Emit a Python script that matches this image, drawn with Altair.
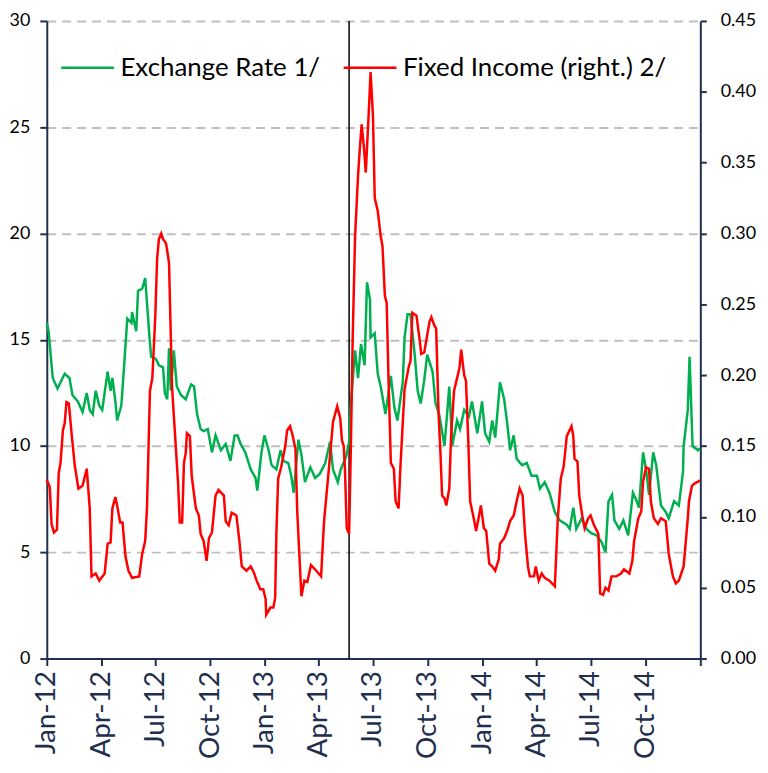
import altair as alt
import pandas as pd

# ---- data (days since 2012-01-01) ----
fx_days = [0,3,10,18,30,38,43,52,60,67,72,77,82,88,93,102,107,110,115,118,125,130,135,142,143,150,153,160,165,172,175,183,188,195,198,202,205,208,213,218,225,233,242,247,252,258,263,270,277,283,292,300,308,315,320,325,333,342,350,353,360,365,372,377,385,392,397,405,410,414,422,427,433,442,450,458,467,475,480,488,493,502,507,510,517,522,527,533,537,542,543,550,555,560,568,577,583,588,597,600,605,610,617,622,627,633,638,647,652,658,667,675,680,688,693,700,708,713,722,730,735,742,747,752,758,760,767,772,777,783,788,797,805,813,822,827,835,843,852,860,872,877,883,888,897,905,913,922,930,937,942,948,952,960,967,975,983,988,993,1000,1005,1010,1017,1022,1030,1038,1043,1052,1060,1067,1068,1075,1078,1083,1092,1095]
fx_vals = [15.8,15.4,13.2,12.7,13.4,13.2,12.4,12.1,11.6,12.5,11.7,11.5,12.6,11.9,11.7,13.5,12.6,13.2,12.1,11.2,11.9,13.9,16.0,15.8,16.3,15.4,17.3,17.4,17.9,15.2,14.2,14.1,13.8,13.7,12.5,12.2,14.6,12.6,14.5,12.8,12.4,12.2,12.9,12.8,11.5,10.8,10.7,10.8,9.7,10.5,9.8,10.1,9.3,10.5,10.5,10.1,9.7,8.9,8.5,7.9,9.7,10.5,9.8,9.1,8.9,9.8,9.3,9.2,8.6,7.8,10.3,9.6,8.3,9.0,8.5,8.7,9.2,10.2,8.9,8.3,8.9,9.5,10.2,12.0,14.5,13.2,14.8,13.8,17.7,16.9,15.1,15.3,13.4,12.8,11.5,13.3,11.8,11.2,13.0,15.1,16.2,16.2,14.3,12.6,12.0,13.1,14.3,13.5,12.0,11.5,10.0,12.8,10.0,11.2,10.8,11.7,11.4,12.1,10.6,12.1,10.6,10.2,11.2,10.4,12.3,13.0,12.2,11.1,9.8,10.5,9.4,9.1,9.2,8.6,8.6,8.0,8.3,7.8,6.9,6.5,6.3,6.1,7.1,6.1,6.6,6.1,5.9,5.8,5.5,5.0,7.4,7.7,6.5,6.1,6.5,5.8,7.8,7.5,7.1,9.7,8.9,7.7,9.7,9.1,7.2,6.9,6.6,7.4,7.2,8.8,10.0,11.7,14.2,10.0,9.8,9.9]

fi_days = [0,5,8,12,17,20,23,27,30,33,37,42,47,53,60,67,72,75,82,88,97,102,107,110,115,118,123,127,132,137,143,155,160,165,168,173,177,182,185,188,192,195,200,203,205,210,217,220,223,227,230,233,235,240,243,250,255,258,263,268,272,277,283,288,297,300,305,310,318,323,327,335,342,347,352,358,363,367,368,375,380,383,385,388,393,400,403,408,412,417,420,427,432,437,443,452,460,465,472,480,487,492,495,498,500,503,507,510,513,517,522,525,528,532,535,540,543,547,550,555,560,563,567,570,573,577,582,585,590,593,600,607,610,613,620,625,628,633,637,642,645,650,653,657,660,663,667,670,675,678,683,687,692,695,700,703,707,710,717,720,725,728,733,737,742,747,752,758,760,767,772,777,783,788,793,798,802,807,810,817,820,825,830,835,843,852,857,862,867,872,880,883,885,890,893,898,902,908,912,917,925,928,933,937,942,947,955,963,968,977,982,985,992,997,1000,1005,1010,1013,1018,1025,1030,1038,1043,1050,1055,1060,1068,1075,1077,1082,1088,1093,1095]
fi_vals = [0.126,0.121,0.095,0.089,0.091,0.131,0.138,0.161,0.166,0.181,0.180,0.157,0.136,0.120,0.122,0.134,0.106,0.058,0.060,0.055,0.060,0.081,0.082,0.106,0.114,0.108,0.096,0.096,0.072,0.062,0.057,0.058,0.074,0.083,0.106,0.189,0.198,0.242,0.282,0.296,0.300,0.296,0.293,0.285,0.279,0.192,0.145,0.125,0.096,0.096,0.138,0.145,0.159,0.157,0.129,0.106,0.101,0.088,0.083,0.069,0.085,0.089,0.115,0.119,0.115,0.097,0.094,0.103,0.101,0.083,0.065,0.062,0.065,0.061,0.055,0.049,0.049,0.042,0.031,0.036,0.036,0.043,0.088,0.127,0.135,0.150,0.161,0.164,0.158,0.148,0.104,0.044,0.055,0.054,0.066,0.062,0.058,0.097,0.129,0.167,0.178,0.170,0.154,0.150,0.134,0.092,0.088,0.150,0.226,0.298,0.341,0.360,0.377,0.360,0.343,0.386,0.414,0.383,0.325,0.316,0.298,0.291,0.256,0.251,0.199,0.138,0.134,0.111,0.106,0.135,0.190,0.206,0.210,0.244,0.242,0.226,0.215,0.216,0.226,0.238,0.241,0.235,0.233,0.173,0.147,0.115,0.113,0.108,0.120,0.157,0.189,0.196,0.205,0.218,0.200,0.196,0.152,0.111,0.097,0.090,0.101,0.108,0.092,0.090,0.067,0.065,0.062,0.070,0.081,0.085,0.090,0.097,0.101,0.111,0.120,0.115,0.088,0.065,0.058,0.058,0.065,0.055,0.060,0.057,0.055,0.051,0.099,0.127,0.136,0.157,0.164,0.157,0.141,0.139,0.115,0.101,0.092,0.099,0.101,0.095,0.088,0.046,0.045,0.050,0.048,0.058,0.058,0.060,0.063,0.060,0.069,0.083,0.099,0.104,0.125,0.135,0.134,0.111,0.099,0.095,0.099,0.097,0.074,0.058,0.053,0.055,0.065,0.099,0.111,0.122,0.124,0.125,0.126]

series_names = ["Exchange Rate 1/", "Fixed Income (right.) 2/"]
series_colors = ["#00B050", "#FF0000"]
event_date = ["2013-05-22"]
left_ticks = [0, 5, 10, 15, 20, 25, 30]
right_ticks = [0, 0.05, 0.10, 0.15, 0.20, 0.25, 0.30, 0.35, 0.40, 0.45]

start = pd.Timestamp("2012-01-01")
fx = pd.DataFrame({"date": start + pd.to_timedelta(fx_days, unit="D"),
                   "value": fx_vals, "series": series_names[0]})
fi = pd.DataFrame({"date": start + pd.to_timedelta(fi_days, unit="D"),
                   "value": fi_vals, "series": series_names[1]})
ev = pd.DataFrame({"date": pd.to_datetime(event_date)})

NAVY = "#1F2F4F"
FONT = "Lato"

quarters = [alt.DateTime(year=y, month=m, date=1) for y in (2012, 2013, 2014) for m in (1, 4, 7, 10)]
quarters.append(alt.DateTime(year=2015, month=1, date=1))

x_enc = alt.X(
    "date:T",
    scale=alt.Scale(domain=[alt.DateTime(year=2012, month=1, date=1),
                            alt.DateTime(year=2015, month=1, date=1)]),
    axis=alt.Axis(values=quarters, labelExpr="year(datum.value) >= 2015 ? '' : timeFormat(datum.value, '%b-%y')",
                  labelAngle=-90, labelFontSize=28, labelColor=NAVY, labelFont=FONT,
                  tickSize=7, labelPadding=5, grid=False, title=None,
                  domainColor=NAVY, domainWidth=2, tickColor=NAVY, tickWidth=2),
)

color_enc = alt.Color(
    "series:N",
    scale=alt.Scale(domain=series_names, range=series_colors),
    legend=alt.Legend(title=None, orient="none", legendX=13, legendY=19, direction="horizontal",
                      symbolType="stroke", symbolSize=2809, symbolStrokeWidth=2.5,
                      labelFontSize=26, labelFont=FONT, labelColor="black", labelOffset=5,
                      columnPadding=18, padding=0, labelLimit=400),
)

rule = alt.Chart(ev).mark_rule(color="black", strokeWidth=1.5).encode(x="date:T")

green = alt.Chart(fx).mark_line(strokeWidth=2.5).encode(
    x=x_enc,
    y=alt.Y("value:Q", scale=alt.Scale(domain=[0, 30], nice=False),
            axis=alt.Axis(orient="left", values=left_ticks, title=None, grid=True,
                          gridDash=[9, 6], gridColor="#BFBFBF", gridWidth=2,
                          labelFontSize=18, labelFont=FONT, labelColor="black", labelPadding=10,
                          tickSize=7, domainColor=NAVY, domainWidth=2, tickColor=NAVY, tickWidth=2)),
    color=color_enc,
)

red = alt.Chart(fi).mark_line(strokeWidth=2.5).encode(
    x=x_enc,
    y=alt.Y("value:Q", scale=alt.Scale(domain=[0, 0.45], nice=False),
            axis=alt.Axis(orient="right", values=right_ticks, format=".2f", title=None, grid=False,
                          labelFontSize=18, labelFont=FONT, labelColor="black", labelPadding=14,
                          tickSize=6, domainColor=NAVY, domainWidth=2, tickColor=NAVY, tickWidth=2)),
    color=color_enc,
)

chart = (
    alt.layer(rule, green, red)
    .resolve_scale(y="independent")
    .properties(width=657, height=641,
                autosize=alt.AutoSizeParams(type="none"),
                padding={"left": 39, "top": 11, "right": 60, "bottom": 108})
    .configure_view(strokeWidth=0)
)

chart.save("out.html", embed_options={"renderer": "svg", "actions": False})
